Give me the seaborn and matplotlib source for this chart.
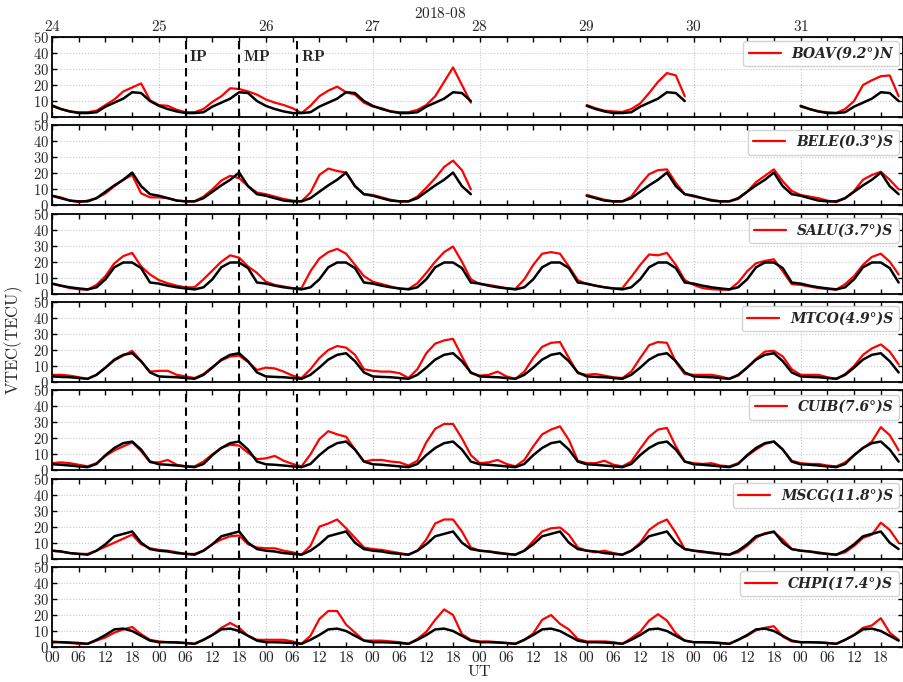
import numpy as np
import pandas as pd
import matplotlib
matplotlib.use("Agg")
import matplotlib.pyplot as plt
import seaborn as sns
from matplotlib.lines import Line2D
from matplotlib.ticker import MultipleLocator, FuncFormatter

nan = np.nan
gap = [nan] * 12

# 2-hourly samples, hours counted from 2018-08-24 00 UT
ut_hours = np.arange(0, 192, 2)
day_labels = ["24", "25", "26", "27", "28", "29", "30", "31"]

station_names = ["BOAV(9.2°)N", "BELE(0.3°)S", "SALU(3.7°)S", "MTCO(4.9°)S",
                 "CUIB(7.6°)S", "MSCG(11.8°)S", "CHPI(17.4°)S"]

# observed VTEC, one row per day (00..22 UT)
boav_vtec = ([7.5, 5, 3.5, 3, 3, 4, 7.5, 11, 16, 18.5, 21, 10.5]
             + [7.5, 7, 4.5, 3, 3, 5, 9.5, 13, 18, 17.5, 16, 14]
             + [11, 9, 7.5, 5.5, 2.5, 7, 13, 16.5, 19, 15.5, 14, 9]
             + [6.5, 5.5, 3.5, 3, 3, 4.5, 7.5, 13, 22, 31, 20, 9]
             + gap
             + [7.5, 5.5, 4, 3.5, 3.2, 5, 8.5, 15, 22, 27.5, 26, 13]
             + gap
             + [6.5, 5, 3.5, 3, 2.5, 5, 10, 20, 23, 25.5, 26, 13])
bele_vtec = ([6, 5, 3, 2, 3, 4.5, 7.5, 12, 16, 19, 7.5, 5]
             + [5, 4.5, 3, 2.5, 2.5, 5.5, 10, 15.5, 18.5, 17, 12, 8]
             + [7, 5.5, 4, 3, 2.5, 8, 19, 23, 21.5, 20.5, 12, 7]
             + [6.5, 5, 3.5, 2.5, 2.5, 5.5, 11, 17, 24, 28, 22, 10]
             + gap
             + [6.5, 5, 3.5, 2.5, 2.5, 5.5, 13, 19.5, 22, 22.5, 14, 7]
             + [5.5, 4.5, 3.5, 2.5, 2.5, 4, 8.5, 14.5, 18.5, 22.5, 15, 9]
             + [6.5, 5.5, 4.5, 3, 2, 4.5, 9, 16, 19, 21, 16, 10])
salu_vtec = ([6.3, 5, 3.5, 2.8, 2.5, 5.5, 11, 19, 23.5, 25.5, 17, 12]
             + [8.5, 6.5, 5, 4, 4, 9, 14.5, 20, 24, 22.5, 17, 13]
             + [7.5, 5.5, 4.5, 3.5, 3.5, 14, 22, 26, 28, 25, 18, 11]
             + [7.5, 6, 4.5, 3, 3, 6.5, 13, 20, 26, 29.5, 20, 9]
             + [6, 5.5, 4.5, 3.5, 3, 9, 18, 25, 26, 25, 17, 8.5]
             + [6, 5, 4, 3.2, 3.5, 10.5, 18, 24.5, 24, 25.5, 18, 8.5]
             + [5.5, 3.5, 2.8, 2.5, 2.5, 7, 14, 19, 20.5, 21.5, 14, 6]
             + [5.5, 4.5, 3.5, 3, 2.5, 6, 11, 18, 23, 25, 20, 12])
mtco_vtec = ([4.5, 4.5, 4, 3, 2, 4.5, 9, 13.5, 16.5, 19.5, 13, 6.5]
             + [7, 7, 4.5, 3.5, 2.5, 5, 9.5, 13.5, 16, 16.5, 12.5, 7.5]
             + [9, 8.5, 6.5, 4, 2.5, 8, 15, 20, 22.5, 21.5, 17, 8]
             + [7, 6.5, 6.5, 5.5, 2.5, 8, 18, 24, 26, 27, 16, 5.5]
             + [4, 4.5, 6.5, 3.5, 2, 6.5, 15, 22, 24.5, 25, 15, 5.5]
             + [4.5, 5, 4, 3, 2.5, 6.5, 15, 23, 25, 24.5, 12.5, 5]
             + [4.5, 4.5, 4.5, 3.5, 2, 4, 9, 14.5, 19, 19.5, 16, 8]
             + [4.5, 4.5, 4.5, 3, 2, 5, 10, 17, 21, 23.5, 19, 11])
cuib_vtec = ([4.5, 5, 4.5, 3.5, 2.5, 4.5, 9, 12.5, 15, 17.5, 12, 5]
             + [5, 6.5, 3.5, 2.5, 2.5, 5.5, 10, 14, 16, 15.5, 11, 7]
             + [7.5, 9, 6, 4, 2.5, 10, 19.5, 24.5, 22.5, 21, 13, 5.5]
             + [6.5, 6.5, 5.5, 5, 3, 6, 17.5, 26, 29, 29, 20, 9.5]
             + [4.5, 5, 6.5, 4, 2.5, 6.5, 15, 22.5, 25.5, 27.5, 19, 6]
             + [4.5, 4.5, 6, 3.5, 2.5, 5.5, 13.5, 21, 25.5, 26.5, 15, 5.5]
             + [4.5, 4, 4.5, 3, 2.5, 4.5, 9, 13, 16.5, 18, 13, 6]
             + [4.5, 4, 4, 3, 2.5, 5, 9.5, 14, 18, 27, 22, 12.5])
mscg_vtec = ([5, 4.5, 3.5, 3, 3, 5, 7.5, 10, 12.5, 15, 9, 6.5]
             + [5.5, 5, 4, 3, 3, 5, 9, 12, 14, 14.5, 9, 7]
             + [6.5, 6.5, 5, 4, 2.5, 8, 20, 22, 24.5, 19, 13, 7]
             + [6, 5.5, 4.5, 3.5, 2.5, 5, 12, 22, 24.5, 24.5, 17, 7]
             + [5, 4.5, 4, 3, 2.5, 5, 11, 17, 19, 19.5, 15, 7]
             + [5, 4, 5, 3.5, 2.5, 5, 10, 18, 22, 24.5, 16, 6]
             + [5, 4, 4, 3, 2.5, 4, 8, 13, 16, 16.5, 12, 6]
             + [5, 4.5, 4, 3, 2.5, 4, 8, 13, 15, 22.5, 18, 10])
chpi_vtec = ([3.5, 3, 2.5, 2, 2, 4, 6, 9, 11, 12.5, 8, 4.5]
             + [3.5, 3, 3, 2.5, 2, 4.5, 7.5, 12, 15, 12, 7, 4.5]
             + [4.5, 4.5, 4.5, 3.5, 2, 7, 17.5, 22.5, 22.5, 14, 9, 4]
             + [4, 4, 3.5, 3, 2, 5, 9.5, 17, 23.5, 20, 8, 4.5]
             + [3.5, 3.5, 3, 2.5, 2, 4.5, 8.5, 17, 20, 14.5, 11, 5]
             + [3.5, 3.5, 3.5, 3, 2, 5.5, 9.5, 16.5, 20.5, 16.5, 8.5, 4]
             + [3, 3, 3, 2.5, 2, 4.5, 7, 10.5, 12, 13, 6.5, 3.5]
             + [3, 3, 3, 2.5, 2, 4.5, 7.5, 12, 13.5, 18, 9, 4.5])

# quiet-day reference curve (00..22 UT), the same for every day
boav_quiet = [7, 5, 3.5, 2.5, 2.5, 3, 6.5, 9, 11.5, 15.5, 15, 10]
bele_quiet = [6, 4.5, 3, 2.5, 2.5, 4.5, 8.5, 12.5, 16, 20.5, 12, 7]
salu_quiet = [6.3, 5, 4, 3.3, 2.7, 4, 9, 16.5, 19.5, 19.5, 16, 7]
mtco_quiet = [3.5, 3.2, 3, 2.5, 2, 4.5, 9, 14, 17, 18, 13, 6]
cuib_quiet = [3.8, 3.5, 3, 2.5, 2, 4, 9.5, 14, 17, 18, 13, 5.5]
mscg_quiet = [5, 4.5, 3.5, 3, 2.5, 5, 9, 14, 15.5, 17, 10, 6]
chpi_quiet = [3, 3, 2.8, 2.5, 2, 4.5, 7.5, 11, 11.5, 10, 7, 4]

# storm phases (hours from 24 Aug 00 UT)
phase_labels = ["IP", "MP", "RP"]
phase_hours = [30, 42, 55]

vtec_list = [boav_vtec, bele_vtec, salu_vtec, mtco_vtec, cuib_vtec, mscg_vtec, chpi_vtec]
quiet_list = [boav_quiet, bele_quiet, salu_quiet, mtco_quiet, cuib_quiet, mscg_quiet, chpi_quiet]


def segments(values):
    # split the series at missing data so the line breaks there
    df = pd.DataFrame({"ut": ut_hours, "tec": values})
    df["seg"] = df["tec"].isna().cumsum()
    return df.dropna()


def main():
    sns.set_style("ticks")
    plt.rcParams["font.family"] = ["DejaVu Serif"]
    plt.rcParams["mathtext.fontset"] = "cm"

    fig, axes = plt.subplots(7, 1, figsize=(9.04, 6.82), dpi=100, sharex=True)
    fig.subplots_adjust(left=0.0575, right=0.999, top=0.9457, bottom=0.0513, hspace=0.104)

    for ax, name, vtec, quiet in zip(axes, station_names, vtec_list, quiet_list):
        red = np.array(vtec, dtype=float)
        black = np.tile(quiet, 8).astype(float)
        black[np.isnan(red)] = nan

        sns.lineplot(data=segments(red), x="ut", y="tec", units="seg", estimator=None,
                     color="red", lw=1.6, ax=ax)
        sns.lineplot(data=segments(black), x="ut", y="tec", units="seg", estimator=None,
                     color="black", lw=1.8, ax=ax)
        for h in phase_hours:
            ax.axvline(h, color="black", ls=(0, (4, 2.5)), lw=1.5)

        ax.set_xlim(0, 191)
        ax.set_ylim(0, 50)
        ax.set_xlabel("")
        ax.set_ylabel("")

        ax.xaxis.set_major_locator(MultipleLocator(24))
        ax.xaxis.set_minor_locator(MultipleLocator(6))
        ax.xaxis.set_major_formatter(FuncFormatter(lambda v, p: r"$\mathrm{00}$"))
        ax.xaxis.set_minor_formatter(
            FuncFormatter(lambda v, p: r"$\mathrm{%02d}$" % (int(round(v)) % 24)))
        ax.yaxis.set_major_locator(MultipleLocator(10))
        ax.yaxis.set_major_formatter(FuncFormatter(lambda v, p: r"$\mathbf{%d}$" % v))

        ax.tick_params(which="both", direction="in", top=True, right=True,
                       length=3.5, width=1, color="black")
        ax.tick_params(axis="y", labelsize=10.5, pad=2)
        ax.tick_params(axis="x", which="both", labelsize=11, pad=2)
        ax.grid(which="major", color="#c8c8c8", ls=":", lw=0.8)
        for sp in ax.spines.values():
            sp.set_linewidth(1.3)
            sp.set_color("black")

        ax.legend(handles=[Line2D([], [], color="red", lw=1.6)], labels=[name],
                  loc="upper right", borderaxespad=0.3, handlelength=2.3,
                  prop={"style": "italic", "weight": "bold", "size": 10},
                  framealpha=0.9, edgecolor="#d0d0d0", fancybox=True)

    # day numbers along the top of the first panel
    top = axes[0].secondary_xaxis("top")
    top.set_xticks(np.arange(0, 192, 24), [r"$\mathrm{%s}$" % d for d in day_labels])
    top.tick_params(length=0, labelsize=11, pad=2)

    for lab, h in zip(phase_labels, phase_hours):
        axes[0].text(h + 0.8, 38, r"$\mathbf{%s}$" % lab, fontsize=11.5,
                     ha="left", va="center")

    fig.text(440 / 904, 1 - 13 / 682, r"$\mathrm{2018}$-$\mathrm{08}$", fontsize=11,
             ha="center", va="center")
    fig.text(14 / 904, 1 - 340 / 682, r"$\mathrm{VTEC(TECU)}$", fontsize=12,
             rotation=90, ha="center", va="center")
    fig.text(479 / 904, 1 - 672 / 682, r"$\mathrm{UT}$", fontsize=11.5,
             ha="center", va="center")

    fig.savefig("out.png", dpi=100)


if __name__ == "__main__":
    main()
